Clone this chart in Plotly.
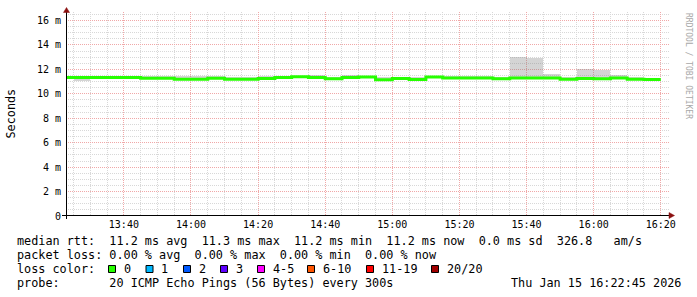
import datetime as dt
import plotly.graph_objects as go

# ---------------- data ----------------
DAY = "2026-01-15"
bin_end = ["13:25", "13:30", "13:35", "13:40", "13:45", "13:50", "13:55", "14:00",
           "14:05", "14:10", "14:15", "14:20", "14:25", "14:30", "14:35", "14:40",
           "14:45", "14:50", "14:55", "15:00", "15:05", "15:10", "15:15", "15:20",
           "15:25", "15:30", "15:35", "15:40", "15:45", "15:50", "15:55", "16:00",
           "16:05", "16:10", "16:15", "16:20"]
median_ms = [11.34, 11.34, 11.34, 11.34, 11.34, 11.28, 11.28, 11.20,
             11.20, 11.28, 11.20, 11.20, 11.26, 11.33, 11.39, 11.33,
             11.23, 11.33, 11.37, 11.16, 11.26, 11.18, 11.37, 11.29,
             11.29, 11.29, 11.23, 11.29, 11.29, 11.29, 11.20, 11.25,
             11.23, 11.29, 11.20, 11.18]
smoke_lo = [11.20, 11.08, 11.34, 11.30, 11.30, 11.25, 11.25, 11.18,
            11.18, 11.25, 11.18, 11.18, 11.24, 11.30, 11.36, 11.30,
            11.20, 11.30, 11.35, 11.08, 11.22, 11.10, 11.34, 11.26,
            11.26, 11.26, 11.20, 11.26, 11.26, 11.26, 11.12, 11.22,
            11.12, 11.26, 11.18, 11.16]
smoke_hi = [11.34, 11.34, 11.34, 11.36, 11.36, 11.45, 11.45, 11.45,
            11.45, 11.50, 11.42, 11.42, 11.45, 11.45, 11.42, 11.58,
            11.40, 11.58, 11.40, 11.38, 11.42, 11.40, 11.40, 11.48,
            11.48, 11.48, 11.42, 13.03, 12.93, 11.60, 11.42, 12.00,
            11.94, 11.55, 11.36, 11.20]

y_tickvals = [0, 2, 4, 6, 8, 10, 12, 14, 16]
y_ticktext = ["0", "2 m", "4 m", "6 m", "8 m", "10 m", "12 m", "14 m", "16 m"]
x_ticktext = ["13:40", "14:00", "14:20", "14:40", "15:00", "15:20", "15:40", "16:00", "16:20"]

legend_line1 = "median rtt:  11.2 ms avg  11.3 ms max  11.2 ms min  11.2 ms now  0.0 ms sd  326.8   am/s"
legend_line2 = "packet loss: 0.00 % avg  0.00 % max  0.00 % min  0.00 % now"
loss_title = "loss color:"
loss_labels = ["0", "1", "2", "3", "4-5", "6-10", "11-19", "20/20"]
loss_colors = ["#26ff00", "#00b8ff", "#0059ff", "#5e00ff", "#ff00ff", "#ff5500", "#ff0000", "#a00000"]
probe_line = "probe:       20 ICMP Echo Pings (56 Bytes) every 300s"
stamp = "Thu Jan 15 16:22:45 2026"
watermark = "RRDTOOL / TOBI OETIKER"
y_title = "Seconds"

range_start = DAY + " 13:22:45"
range_end = DAY + " 16:22:45"

# ---------------- derived ----------------
STEP = dt.timedelta(minutes=5)
ends = [dt.datetime.fromisoformat(DAY + " " + t) for t in bin_end]
centers = [e - STEP / 2 for e in ends]
starts = [e - STEP for e in ends]
x_tickvals = [DAY + " " + t for t in x_ticktext]

W, H = 697, 297
L, R, T, B = 66, 27, 12, 81
PW, PH = W - L - R, H - T - B


def px(x):
    return (x - L) / PW


def py(y):
    return (H - B - y) / PH


MONO = "DejaVu Sans Mono"
MAJOR = "#f0a8a8"
MINOR = "#d8d8d8"

fig = go.Figure()

fig.add_trace(go.Bar(
    x=centers, y=[h - l for h, l in zip(smoke_hi, smoke_lo)], base=smoke_lo,
    width=STEP.total_seconds() * 1000,
    marker=dict(color="rgba(130,130,130,0.34)", line=dict(width=0)),
    hoverinfo="skip", showlegend=False))

fig.add_trace(go.Scatter(
    x=starts + [ends[-1]], y=median_ms + [median_ms[-1]],
    mode="lines", line=dict(color=loss_colors[0], width=3, shape="hv"),
    hoverinfo="skip", showlegend=False))

fig.update_layout(
    width=W, height=H, margin=dict(l=L, r=R, t=T, b=B, autoexpand=False),
    paper_bgcolor="white", plot_bgcolor="white", showlegend=False,
    bargap=0,
    xaxis=dict(
        type="date", range=[range_start, range_end],
        tickmode="array", tickvals=x_tickvals, ticktext=x_ticktext,
        showgrid=True, gridcolor=MAJOR, griddash="1px,1px", gridwidth=1,
        minor=dict(tick0=DAY + " 00:00", dtick=300000, showgrid=True,
                   gridcolor=MINOR, griddash="1px,1px", gridwidth=1),
        ticks="", showline=False, zeroline=False, ticklabelstandoff=1,
        tickfont=dict(family=MONO, size=10, color="#000000"),
    ),
    yaxis=dict(
        range=[0, 16.7], tickmode="array", tickvals=y_tickvals, ticktext=y_ticktext,
        showgrid=True, gridcolor=MAJOR, griddash="1px,1px", gridwidth=1,
        minor=dict(tick0=0, dtick=0.5, showgrid=True,
                   gridcolor=MINOR, griddash="1px,1px", gridwidth=1),
        ticks="", showline=False, zeroline=False, ticklabelstandoff=4,
        tickfont=dict(family=MONO, size=10, color="#000000"),
    ),
)

shapes = []
# axes
shapes.append(dict(type="line", xref="paper", yref="paper",
                   x0=px(62), x1=px(670), y0=py(215.5), y1=py(215.5),
                   line=dict(color="black", width=1)))
shapes.append(dict(type="line", xref="paper", yref="paper",
                   x0=px(66.5), x1=px(66.5), y0=py(219), y1=py(12),
                   line=dict(color="black", width=1)))
# arrows
ARROW = "#8b1010"
shapes.append(dict(type="path", xref="paper", yref="paper",
                   path=f"M {px(669)} {py(212.5)} L {px(674.5)} {py(215.5)} L {px(669)} {py(218.5)} Z",
                   fillcolor=ARROW, line=dict(color=ARROW, width=0.5)))
shapes.append(dict(type="path", xref="paper", yref="paper",
                   path=f"M {px(63.5)} {py(12.5)} L {px(66.5)} {py(7.5)} L {px(69.5)} {py(12.5)} Z",
                   fillcolor=ARROW, line=dict(color=ARROW, width=0.5)))

# legend colour boxes
box_left = [108, 145.5, 183, 220, 257, 307, 366, 431]
annotations = []
for bx, col, lab in zip(box_left, loss_colors, loss_labels):
    shapes.append(dict(type="rect", xref="paper", yref="paper",
                       x0=px(bx + 0.5), x1=px(bx + 7.5), y0=py(272.5), y1=py(265.5),
                       fillcolor=col, line=dict(color="black", width=1)))
    annotations.append(dict(text=lab, x=px(bx + 13.5), y=py(268.5)))

NB = "\u00a0"


def nb(s):
    return s.replace(" ", NB)


annotations += [
    dict(text=nb(legend_line1), x=px(14.5), y=py(241)),
    dict(text=nb(legend_line2), x=px(14.5), y=py(255)),
    dict(text=nb(loss_title), x=px(14.5), y=py(268.5)),
    dict(text=nb(probe_line), x=px(14.5), y=py(282.5)),
]
for a in annotations:
    a.update(xref="paper", yref="paper", xanchor="left", yanchor="middle",
             showarrow=False, font=dict(family=MONO, size=11.8, color="black"))

annotations.append(dict(text=nb(stamp), x=px(682.5), y=py(282.5), xref="paper", yref="paper",
                        xanchor="right", yanchor="middle", showarrow=False,
                        font=dict(family=MONO, size=11.8, color="black")))
annotations.append(dict(text=y_title, x=px(10.5), y=py(114), xref="paper", yref="paper",
                        xanchor="center", yanchor="middle", textangle=-90, showarrow=False,
                        font=dict(family=MONO, size=11.8, color="black")))
annotations.append(dict(text=nb(watermark), x=px(688.5), y=py(65.5), xref="paper", yref="paper",
                        xanchor="center", yanchor="middle", textangle=90, showarrow=False,
                        font=dict(family=MONO, size=8, color="#a8a8a8")))

fig.update_layout(shapes=shapes, annotations=annotations)
fig.write_html("out.html")
